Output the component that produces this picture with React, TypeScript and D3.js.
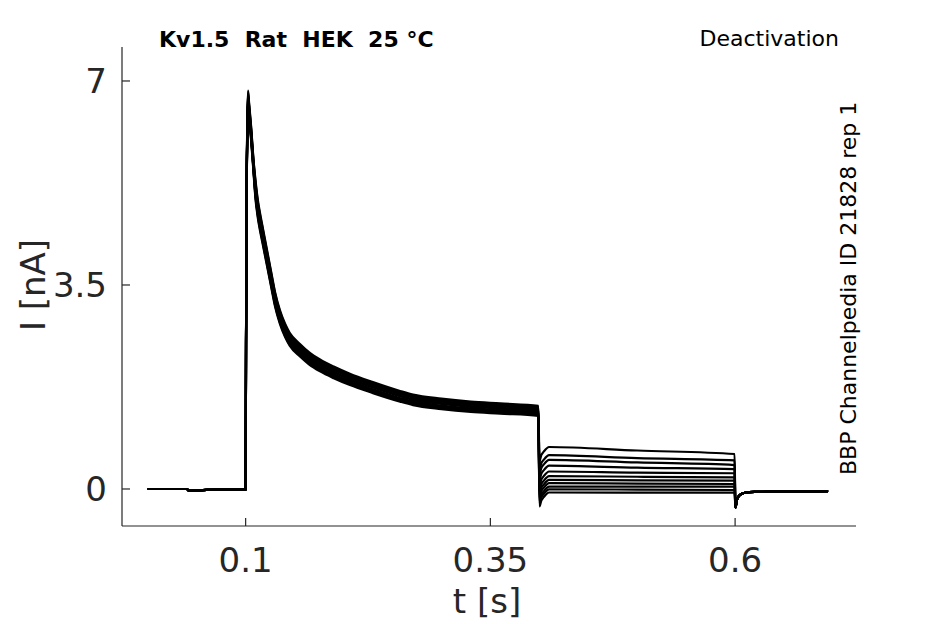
import * as d3 from "d3";

// sweep layout (s / nA)
const baseT = [0, 0.04, 0.042, 0.06, 0.1];
const baseI = [0, 0, -0.03, -0.015, -0.01];

const actT = [0.1004, 0.101, 0.102, 0.1025, 0.1035, 0.1056, 0.108, 0.11, 0.1125, 0.1145, 0.1168, 0.122, 0.1266, 0.1301, 0.135, 0.1403, 0.145, 0.1555, 0.165, 0.176, 0.19, 0.2065, 0.23, 0.2578, 0.271, 0.3, 0.33, 0.36, 0.399];
const actI = [2.5, 5.0, 6.4, 6.7, 6.5, 6.1, 5.55, 5.15, 4.8, 4.6, 4.4, 3.95, 3.55, 3.25, 2.95, 2.72, 2.57, 2.38, 2.24, 2.12, 2.0, 1.88, 1.74, 1.59, 1.53, 1.46, 1.41, 1.38, 1.34];
const sweepGain = [1.015, 0.99, 1.005, 0.98, 1.0, 0.995, 1.02, 0.985, 1.01, 0.998, 0.99];
const sweepShift = [0.05, -0.04, 0.03, -0.06, 0.0, -0.02, 0.06, -0.05, 0.035, 0.015, -0.03];

const hookT = [0.4002, 0.402, 0.4045];
const hookDepth = [-0.24, -0.14, -0.08];

const deactT = [0.41, 0.5, 0.5995];
const deactStart = [0.72, 0.58, 0.5, 0.4, 0.3, 0.22, 0.155, 0.1, 0.04, -0.005, -0.06];
const deactMid = [0.66, 0.53, 0.455, 0.365, 0.28, 0.21, 0.148, 0.092, 0.04, -0.01, -0.062];
const deactEnd = [0.6, 0.49, 0.41, 0.34, 0.27, 0.2, 0.142, 0.086, 0.039, -0.017, -0.063];

const tailT = [0.6003, 0.602, 0.605, 0.61, 0.62, 0.65, 0.695];
const tailI = [-0.32, -0.18, -0.1, -0.065, -0.05, -0.045, -0.035];

const xTicks = [0.1, 0.35, 0.6];
const xTickLabels = ["0.1", "0.35", "0.6"];
const yTicks = [0, 3.5, 7];
const yTickLabels = ["0", "3.5", "7"];

const W = 945;
const H = 624;
const FONT = "DejaVu Sans";
const AX = "#262626";

type Pt = [number, number];

function buildSweep(k: number): Pt[] {
  const pts: Pt[] = [];
  baseT.forEach((t, i) => pts.push([t, baseI[i]]));
  actT.forEach((t, i) => pts.push([t, actI[i] * sweepGain[k] + (t >= 0.11 ? sweepShift[k] : 0)]));
  hookT.forEach((t, i) => pts.push([t, deactStart[k] + hookDepth[i]]));
  const lv = [deactStart[k], deactMid[k], deactEnd[k]];
  deactT.forEach((t, i) => pts.push([t, lv[i]]));
  tailT.forEach((t, i) => pts.push([t, tailI[i]]));
  return pts;
}

export default function App() {
  const x = d3.scaleLinear().domain([-0.0263, 0.7235]).range([122, 856]);
  const y = d3.scaleLinear().domain([-0.635, 7.583]).range([526, 47]);

  const line = d3
    .line<Pt>()
    .x((d) => x(d[0]))
    .y((d) => y(d[1]))
    .curve(d3.curveMonotoneX);

  const sweeps = sweepGain.map((_, k) => buildSweep(k));

  return (
    <>
      <style>{`body{margin:0}`}</style>
      <svg width={W} height={H} style={{ display: "block", background: "#fff" }} fontFamily={FONT}>
        {/* traces */}
        <g fill="none" stroke="#000" strokeWidth={2.2} strokeLinejoin="round">
          {sweeps.map((s, i) => (
            <path key={i} d={line(s) ?? ""} />
          ))}
        </g>

        {/* axes */}
        <g stroke={AX} strokeWidth={1.2} fill="none">
          <line x1={122} x2={122} y1={47} y2={526} />
          <line x1={122} x2={856} y1={526} y2={526} />
          {xTicks.map((t) => (
            <line key={t} x1={x(t)} x2={x(t)} y1={526} y2={518} />
          ))}
          {yTicks.map((v) => (
            <line key={v} x1={122} x2={130} y1={y(v)} y2={y(v)} />
          ))}
        </g>

        <g fill={AX} fontSize={34}>
          {xTicks.map((t, i) => (
            <text key={t} x={x(t)} y={572} textAnchor="middle">
              {xTickLabels[i]}
            </text>
          ))}
          {yTicks.map((v, i) => (
            <text key={v} x={107} y={y(v) + 12} textAnchor="end">
              {yTickLabels[i]}
            </text>
          ))}
        </g>

        <text x={487} y={613} fontSize={34} fill={AX} textAnchor="middle">
          t [s]
        </text>
        <text
          transform="translate(45,285) rotate(-90)"
          fontSize={34}
          fill={AX}
          textAnchor="middle"
        >
          I [nA]
        </text>

        <text x={159} y={47} fontSize={22} fontWeight="bold" fill="#000" style={{ whiteSpace: "pre" }}>
          {"Kv1.5  Rat  HEK  25 °C"}
        </text>
        <text x={839} y={46} fontSize={22} fill="#000" textAnchor="end">
          Deactivation
        </text>
        <text
          transform="translate(856,475) rotate(-90)"
          fontSize={22}
          fill="#000"
        >
          BBP Channelpedia ID 21828 rep 1
        </text>
      </svg>
    </>
  );
}
